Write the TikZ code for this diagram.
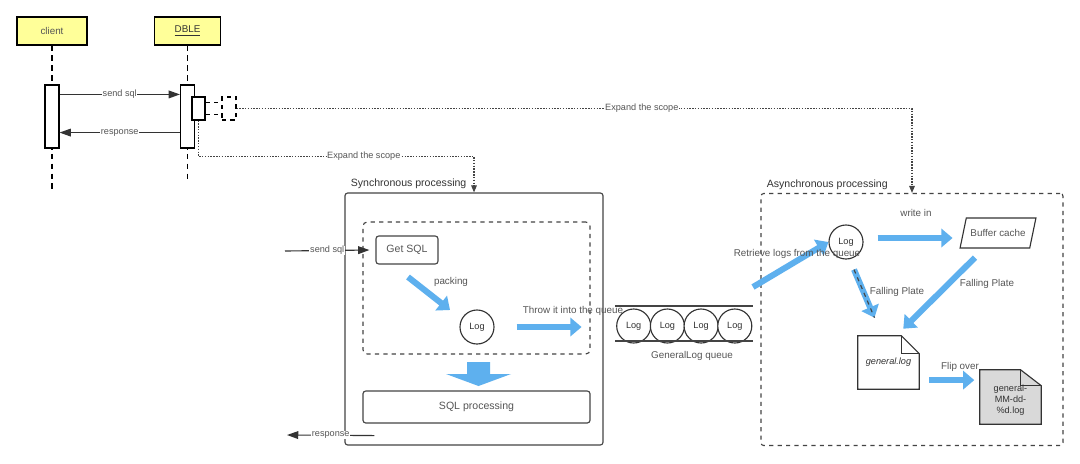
\documentclass[tikz,border=0pt]{standalone}
\usepackage{fontspec}
\setmainfont{Liberation Sans}
\usetikzlibrary{arrows.meta,positioning,shapes.geometric,calc}

\definecolor{lifeyellow}{HTML}{FFFF99}
\definecolor{flowblue}{HTML}{5EB0EE}
\definecolor{txtgray}{HTML}{555555}
\definecolor{txtdark}{HTML}{333333}
\definecolor{docgray}{HTML}{D9D9D9}
\definecolor{linegray}{HTML}{444444}

\tikzset{
  lifebox/.style={draw=black, thick, fill=lifeyellow, minimum height=0.7cm, font=\fontsize{7}{8}\selectfont, text=txtgray},
  actbox/.style={draw=black, thick, fill=white, minimum width=0.35cm, minimum height=1.575cm},
  lifeline/.style={thick, dash pattern=on 4pt off 3pt},
  msg/.style={thick, draw=txtdark, -{Triangle[length=8pt,width=5.5pt]}},
  msglabel/.style={fill=white, inner sep=0.5pt, font=\fontsize{6.5}{7}\selectfont, text=txtgray},
  scopeline/.style={thick, draw=linegray, dash pattern=on 1pt off 1pt, -{Triangle[length=5pt,width=4pt]}},
  title/.style={font=\fontsize{7.5}{9}\selectfont, text=txtdark, inner sep=1pt},
  flowlabel/.style={font=\fontsize{7}{8}\selectfont, text=txtgray, inner sep=1pt},
  procbox/.style={draw=linegray, thick, rounded corners=2pt, font=\fontsize{7.5}{9}\selectfont, text=txtgray},
  logcirc/.style={circle, draw=txtdark, thick, fill=white, minimum size=0.85cm, inner sep=0pt, font=\fontsize{6.5}{7}\selectfont, text=txtdark},
  flow/.style={draw=flowblue, line width=4.3pt, -{Triangle[length=8pt,width=13pt]}},
  doc/.style={minimum width=1.525cm, inner sep=0pt, font=\fontsize{6.5}{7.8}\selectfont, text=txtdark, align=center},
}

\begin{document}
\begin{tikzpicture}[x=0.025cm, y=-0.025cm]
\fill[white] (0,0) rectangle (1080,463);
\useasboundingbox (0,0) rectangle (1080,463);

% the two processing areas
\node[draw=linegray, thick, rounded corners=2pt, minimum width=6.45cm, minimum height=6.3cm] (sync) at (474,319) {};
\node[title, anchor=south west] (synctitle) at ([xshift=0.12cm,yshift=0.05cm]sync.north west) {Synchronous processing};
\node[draw=linegray, thick, dashed, rounded corners=2pt, minimum width=7.55cm, minimum height=6.3cm] (async) at (912,319.5) {};
\node[title, anchor=south west] (asynctitle) at ([xshift=0.12cm,yshift=0.05cm]async.north west) {Asynchronous processing};

% sequence part
\node[lifebox, minimum width=1.75cm] (client) at (52,31) {client};
\node[lifebox, minimum width=1.65cm, text=txtdark] (dble) at (187.5,31) {\underline{DBLE}};
\draw[lifeline] (client.south) -- ++(0,143);
\draw[lifeline] (dble.south) -- ++(0,133);
\node[actbox] (cact) at (52,116.5) {};
\node[actbox] (dact) at (187.5,116.5) {};
\node[actbox, minimum width=0.325cm, minimum height=0.575cm] (nest) at (198.5,108.5) {};
\node[actbox, dashed, minimum width=0.35cm, minimum height=0.575cm] (self) at (229,108.5) {};
\draw[thick, dashed] ([yshift=0.15cm]nest.east) -- ([yshift=0.15cm]self.west);
\draw[thick, dashed] ([yshift=-0.15cm]nest.east) -- ([yshift=-0.15cm]self.west);

\draw[msg] ([yshift=-0.25cm]cact.north east) -- ([yshift=-0.25cm]dact.north west) node[midway, msglabel] (sendlbl) {send sql};
\draw[msg] ([yshift=0.4cm]dact.south west) -- ([yshift=0.4cm]cact.south east) node[midway, msglabel] (resplbl) {response};

% scope links
\draw[scopeline] (self.east) -| (async.north) node[pos=0.3, msglabel] (scopea) {Expand the scope};
\draw[scopeline] (nest.south) |- ([yshift=0.9cm]sync.north) node[pos=0.8, msglabel] (scopeb) {Expand the scope} -- (sync.north);

% synchronous processing
\node[draw=linegray, thick, dashed, rounded corners=3pt, minimum width=5.675cm, minimum height=3.3cm] (pack) at (476.5,288) {};
\node[procbox, minimum width=1.55cm, minimum height=0.7cm] (getsql) at (407,250) {Get SQL};
\node[logcirc] (log) at (477,327) {Log};
\node[procbox, minimum width=5.675cm, minimum height=0.8cm] (sqlproc) at (476.5,407) {SQL processing};

\coordinate (sqlin) at (285,251);
\draw[msg] (sqlin) -- ([xshift=-0.15cm]getsql.west) node[midway, msglabel] (inlbl) {send sql};
\coordinate (sqlout) at (287,435);
\draw[msg] ([xshift=0.3cm,yshift=-0.3cm]sqlproc.south west) -- (sqlout) node[midway, msglabel] (outlbl) {response};

\coordinate (packa) at (408,277);
\coordinate (packb) at (450,310);
\draw[flow] (packa) -- (packb);
\node[flowlabel] (packlbl) at (451,282) {packing};
\draw[flow] ([xshift=0.55cm]log.east) -- ++(65,0);
\node[flowlabel] (throwlbl) at (573,311) {Throw it into the queue};
\fill[flowblue] (467,362) -- (490,362) -- (490,374) -- (511,374) -- (478.5,386) -- (446,374) -- (467,374) -- cycle;

% queue
\foreach \i in {1,...,4}
  \node[logcirc] (q\i) at ({600+33.7*\i},326) {Log};
\coordinate (qtl) at ($(q1.west)+(-1,-20)$);
\coordinate (qtr) at ($(q4.east)+(1,-20)$);
\coordinate (qbl) at ($(q1.west)+(-1,15)$);
\coordinate (qbr) at ($(q4.east)+(1,15)$);
\draw[thick, draw=linegray] (qtl) -- (qtr);
\draw[thick, draw=linegray] (qbl) -- (qbr);
\node[flowlabel] (qlbl) at (692,356) {GeneralLog queue};

% asynchronous processing
\node[logcirc] (alog) at (846,242) {Log};
\node[draw=txtdark, thick, trapezium, trapezium left angle=72, trapezium right angle=108, trapezium stretches=true, inner xsep=0pt, minimum width=1.9cm, minimum height=0.75cm, font=\fontsize{7}{8}\selectfont, text=txtgray] (buffer) at (998,233) {Buffer cache};
\node[doc, minimum height=1.325cm] (glog) at (888.5,362.5) {\itshape general.log};
\draw[thick, draw=txtdark] (glog.south west) -- (glog.north west) -- ([xshift=-0.45cm]glog.north east) -- ([yshift=-0.45cm]glog.north east) -- (glog.south east) -- cycle;
\draw[thick, draw=txtdark] ([xshift=-0.45cm]glog.north east) |- ([yshift=-0.45cm]glog.north east);
\node[doc, minimum height=1.35cm] (gdoc) at (1010.5,397) {};
\filldraw[thick, draw=txtdark, fill=docgray] (gdoc.south west) -- (gdoc.north west) -- ([xshift=-0.52cm]gdoc.north east) -- ([yshift=-0.4cm]gdoc.north east) -- (gdoc.south east) -- cycle;
\draw[thick, draw=txtdark] ([xshift=-0.52cm]gdoc.north east) |- ([yshift=-0.4cm]gdoc.north east);
\node[doc] (gdoctext) at ([yshift=-0.08cm]gdoc.center) {general-\\MM-dd-\\\%d.log};

\coordinate (qout) at (753,287);
\draw[flow] (qout) -- (alog.west);
\node[flowlabel] (retrlbl) at (797,254) {Retrieve logs from the queue};
\draw[flow] ([xshift=0.35cm,yshift=0.1cm]alog.east) -- ++(75,0);
\node[flowlabel] (writelbl) at (916,213) {write in};
\draw[flow] ([xshift=0.2cm,yshift=-0.25cm]alog.south) -- ([xshift=-0.35cm,yshift=0.45cm]glog.north);
\draw[thick, draw=linegray, dashed] ([xshift=0.2cm,yshift=-0.25cm]alog.south) -- ([xshift=-0.35cm,yshift=0.45cm]glog.north);
\node[flowlabel] (falllbla) at (897,292) {Falling Plate};
\draw[flow] ([xshift=-0.575cm,yshift=-0.225cm]buffer.south) -- ([xshift=-0.4cm,yshift=0.175cm]glog.north east);
\node[flowlabel] (falllblb) at (987,284) {Falling Plate};
\draw[flow] ([xshift=0.25cm,yshift=-0.44cm]glog.east) -- ++(45,0);
\node[flowlabel] (fliplbl) at (960,367) {Flip over};
\end{tikzpicture}
\end{document}
